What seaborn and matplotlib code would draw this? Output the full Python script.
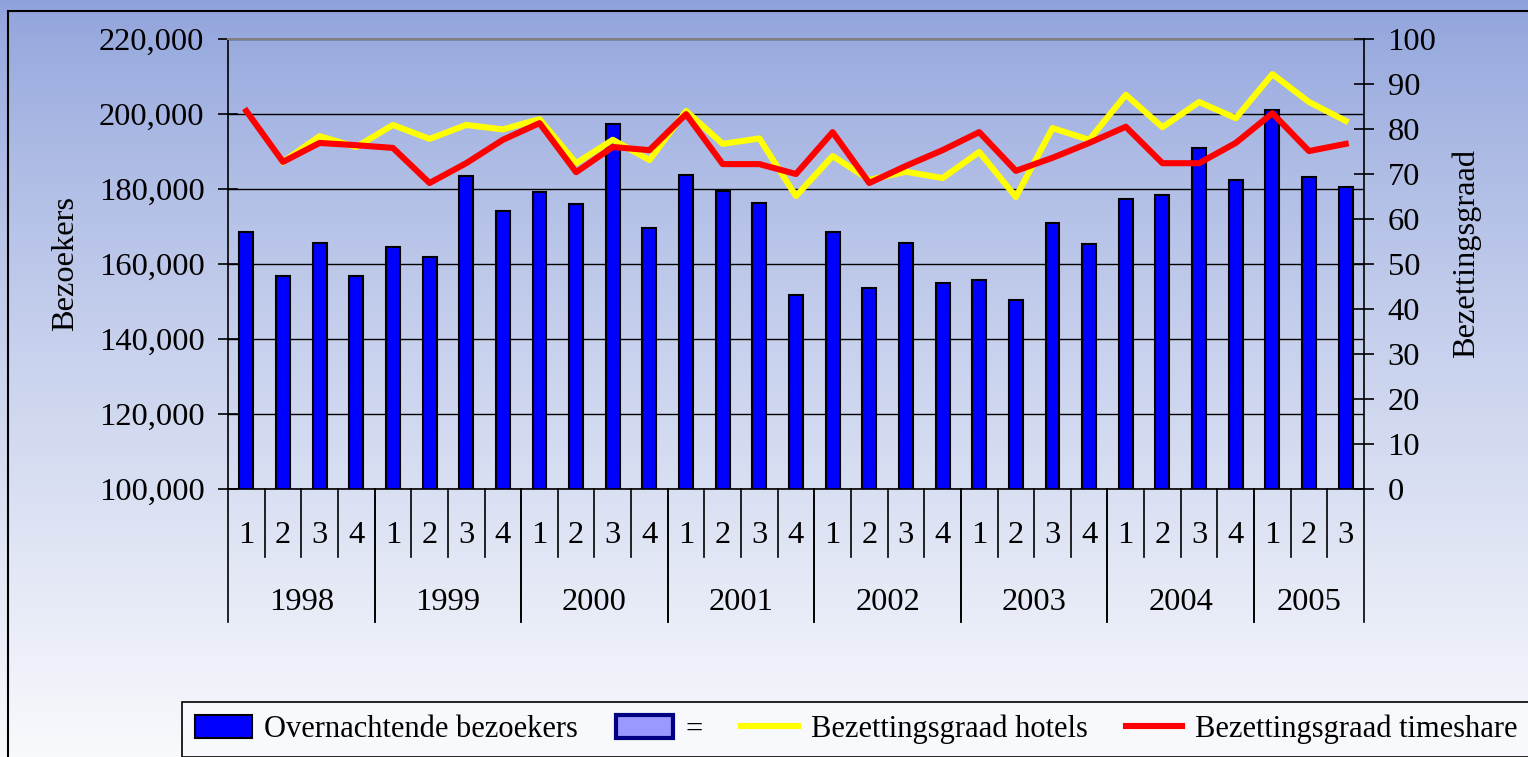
import numpy as np
import pandas as pd
import seaborn as sns
from matplotlib import pyplot as plt
from matplotlib.patches import Patch, Rectangle
from matplotlib.lines import Line2D
from matplotlib.ticker import FuncFormatter
import matplotlib.transforms as mtransforms

# data
jaren = [1998, 1999, 2000, 2001, 2002, 2003, 2004, 2005]
kwartalen_per_jaar = [4, 4, 4, 4, 4, 4, 4, 3]

bezoekers = [168500, 156700, 165700, 156700,
             164600, 162000, 183400, 174200,
             179100, 175900, 197400, 169500,
             183800, 179500, 176300, 151700,
             168500, 153500, 165700, 155000,
             155700, 150300, 171000, 165400,
             177300, 178500, 191000, 182300,
             201000, 183300, 180600]

hotels = [np.nan, 72.7, 78.4, 76.0,
          80.9, 77.8, 80.9, 79.9,
          82.2, 72.4, 77.6, 73.1,
          84.0, 76.7, 77.9, 65.1,
          74.0, 68.7, 70.5, 69.1,
          74.9, 64.9, 80.2, 77.6,
          87.6, 80.4, 86.0, 82.4,
          92.2, 86.0, 81.8]

timeshare = [84.0, 72.7, 76.9, 76.4,
             75.8, 68.0, 72.4, 77.6,
             81.3, 70.4, 76.0, 75.3,
             83.3, 72.2, 72.2, 70.0,
             79.3, 68.0, 71.8, 75.3,
             79.3, 70.7, 73.6, 76.9,
             80.5, 72.4, 72.4, 76.9,
             83.5, 75.1, 76.7]

rows = []
for jaar, n in zip(jaren, kwartalen_per_jaar):
    for k in range(1, n + 1):
        rows.append({'jaar': jaar, 'kwartaal': k})
df = pd.DataFrame(rows)
df['periode'] = df['jaar'].astype(str) + '-' + df['kwartaal'].astype(str)
df['pos'] = np.arange(len(df))
df['bezoekers'] = bezoekers
df['hotels'] = hotels
df['timeshare'] = timeshare

#%%
plt.rcParams['font.family'] = ['Liberation Serif', 'DejaVu Serif']
fs = 23.4
fs_leg = 22

fig = plt.figure(figsize=(15.28, 7.57), dpi=100)

# gradient background
bg = fig.add_axes([0, 0, 1, 1], zorder=-10)
top = np.array([0.56, 0.635, 0.86])
bot = np.array([0.975, 0.978, 0.99])
t = np.linspace(0, 1, 400) ** 0.8
grad = top[None, :] + (bot - top)[None, :] * t[:, None]
bg.imshow(grad[:, None, :], aspect='auto', extent=[0, 1, 0, 1])
bg.axis('off')

# outer frame
fig.patches.append(Rectangle((8 / 1528, -0.2), 1.2, 1.2 - 11 / 757,
                             transform=fig.transFigure, fill=False,
                             edgecolor='black', lw=1.5, zorder=-5))

W, H = 1528, 757
ax = fig.add_axes([228 / W, 1 - 489 / H, (1364 - 228) / W, (489 - 39) / H])
ax.patch.set_alpha(0)

sns.barplot(data=df, x='periode', y='bezoekers', ax=ax, color='#0000FF',
            saturation=1, width=0.38, edgecolor='black', linewidth=1.5)
ax.set_ylim(100000, 220000)
ax.set_yticks(np.arange(100000, 220001, 20000))
ax.yaxis.set_major_formatter(FuncFormatter(lambda v, p: f'{v:,.0f}'))
ax.set_axisbelow(True)
ax.yaxis.grid(True, color='black', lw=1)
ax.tick_params(axis='y', direction='inout', length=15, width=1.2,
               labelsize=fs, pad=9.5)
ax.tick_params(axis='x', length=0, labelbottom=False)
ax.set_xlabel('')
ax.set_ylabel('')
ax.spines['top'].set_color('#808080')
ax.spines['top'].set_linewidth(1.5)
ax.spines['right'].set_visible(False)
ax.spines['left'].set_linewidth(1.2)
ax.spines['bottom'].set_linewidth(1.2)

ax2 = ax.twinx()
sns.lineplot(data=df, x='pos', y='hotels', ax=ax2, color='#FFFF00', lw=4.4)
sns.lineplot(data=df, x='pos', y='timeshare', ax=ax2, color='#FF0000', lw=4.4)
ax2.set_ylim(0, 100)
ax2.set_yticks(np.arange(0, 101, 10))
ax2.tick_params(axis='y', direction='inout', length=15, width=1.2,
                labelsize=fs, pad=9.5)
ax2.set_xlabel('')
ax2.set_ylabel('')
for s in ['top', 'left', 'bottom']:
    ax2.spines[s].set_visible(False)
ax2.spines['right'].set_linewidth(1.2)
ax2.set_xlim(-0.5, len(df) - 0.5)

# two-level category axis
trans = mtransforms.blended_transform_factory(ax.transData, ax.transAxes)
q_depth = -68 / 450
y_depth = -133 / 450
for p, k in zip(df['pos'], df['kwartaal']):
    ax.text(p, -0.104, str(k), transform=trans, ha='center', va='center',
            fontsize=fs)
    if k > 1:
        ax.plot([p - 0.5, p - 0.5], [0, q_depth], transform=trans,
                color='black', lw=1.2, clip_on=False)
grp = df.groupby('jaar')['pos'].agg(['min', 'max'])
for jaar, r in grp.iterrows():
    ax.text((r['min'] + r['max']) / 2, -0.253, str(jaar), transform=trans,
            ha='center', va='center', fontsize=fs)
    for edge in [r['min'] - 0.5, r['max'] + 0.5]:
        ax.plot([edge, edge], [0, y_depth], transform=trans,
                color='black', lw=1.2, clip_on=False)

fig.text(66 / W, 1 - 263 / H, 'Bezoekers', rotation=90, ha='center',
         va='center', fontsize=fs)
fig.text(1466 / W, 1 - 358 / H, 'Bezettingsgraad', rotation=90, ha='center',
         va='bottom', fontsize=fs)

handles = [
    Patch(facecolor='#0000FF', edgecolor='black', lw=1.5),
    Patch(facecolor='#9999FF', edgecolor='#000080', lw=3),
    Line2D([], [], color='#FFFF00', lw=4.4),
    Line2D([], [], color='#FF0000', lw=4.4),
]
labels = ['Overnachtende bezoekers', '=', 'Bezettingsgraad hotels',
          'Bezettingsgraad timeshare']
leg = fig.legend(handles, labels, loc='upper left',
                 bbox_to_anchor=(182 / W, 1 - 702 / H), borderaxespad=0,
                 ncol=4, fontsize=fs_leg, frameon=True, fancybox=False,
                 edgecolor='black', facecolor='#F8F9FC', framealpha=1,
                 handlelength=1.86, handleheight=0.75, handletextpad=0.42,
                 columnspacing=1.24, borderpad=0.42)
leg.get_frame().set_linewidth(1.2)

fig.savefig('out.png', dpi=100)
